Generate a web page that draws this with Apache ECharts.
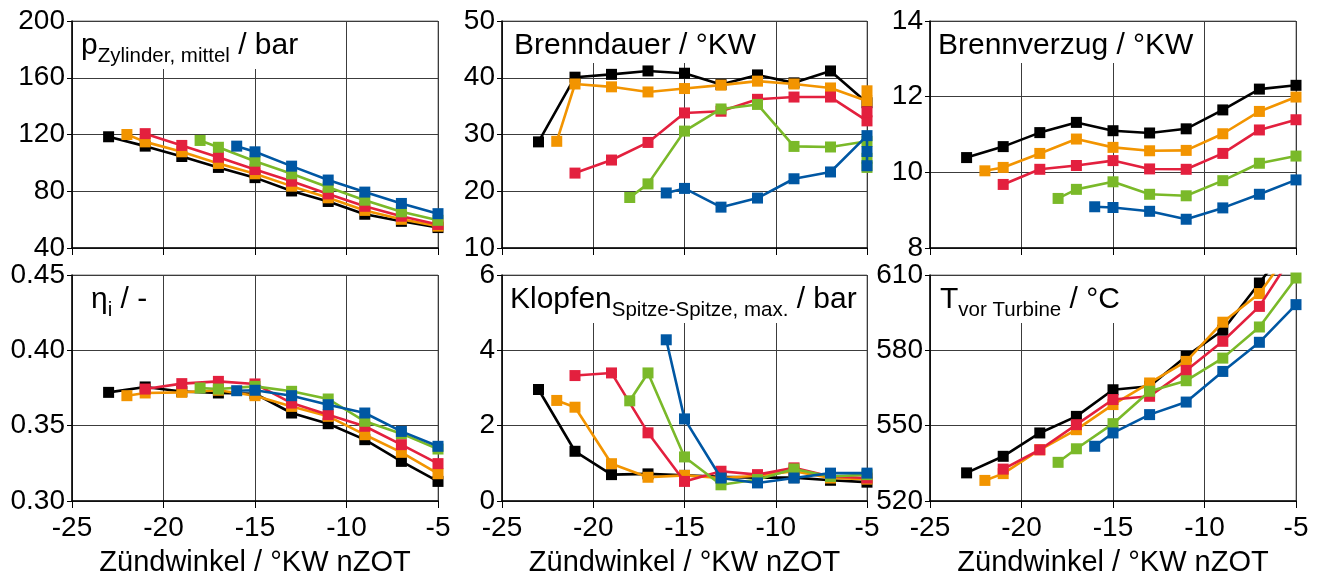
<!DOCTYPE html>
<html>
<head>
<meta charset="utf-8">
<script src="https://cdn.jsdelivr.net/npm/echarts@6/dist/echarts.min.js"></script>
<style>
  html, body { margin: 0; padding: 0; background: #fff; }
  #chart { width: 1324px; height: 583px; }
</style>
</head>
<body>
<div id="chart"></div>
<script>
// Ignition angles (°KW nZOT) of the five measurement series
const angBlack  = [-23, -21, -19, -17, -15, -13, -11, -9, -7, -5];
const angOrange = [-22, -21, -19, -17, -15, -13, -11, -9, -7, -5];
const angRed    = [-21, -19, -17, -15, -13, -11, -9, -7, -5];
const angGreen  = [-18, -17, -15, -13, -11, -9, -7, -5];
const angBlue   = [-16, -15, -13, -11, -9, -7, -5];

// Mean cylinder pressure / bar
const pZylBlack  = [118.4, 111.8, 104.5, 96.8, 89.6, 80.2, 72.8, 63.8, 58.8, 54.4];
const pZylOrange = [120.0, 114.8, 107.8, 99.6, 92.3, 83.6, 75.4, 66.5, 60.2, 55.4];
const pZylRed    = [120.6, 112.3, 104.0, 95.3, 87.1, 78.1, 69.4, 62.4, 56.6];
const pZylGreen  = [115.8, 111.0, 101.2, 92.3, 82.8, 73.7, 65.5, 59.5];
const pZylBlue   = [111.8, 107.8, 97.7, 87.9, 79.4, 71.4, 64.2];

// Combustion duration / °KW (plus repeated points at -5 °KW)
const bdBlack  = [28.7, 40.1, 40.6, 41.2, 40.8, 38.8, 40.5, 39.1, 41.2, 35.6];
const bdOrange = [28.8, 38.9, 38.4, 37.5, 38.1, 38.7, 39.4, 38.9, 38.2, 35.9];
const bdRed    = [23.2, 25.5, 28.6, 33.8, 34.1, 36.2, 36.6, 36.6, 32.4];
const bdGreen  = [18.9, 21.3, 30.6, 34.5, 35.3, 27.9, 27.8, 28.8];
const bdBlue   = [19.7, 20.5, 17.2, 18.8, 22.2, 23.4, 29.8];
const bdBlackRep  = [];
const bdOrangeRep = [37.7];
const bdRedRep    = [34.0];
const bdGreenRep  = [25.8, 24.2];
const bdBlueRep   = [27.0, 24.5];

// Ignition delay / °KW
const bvBlack  = [10.39, 10.68, 11.05, 11.32, 11.10, 11.04, 11.15, 11.65, 12.20, 12.30];
const bvOrange = [10.04, 10.13, 10.50, 10.88, 10.66, 10.57, 10.58, 11.02, 11.61, 11.99];
const bvRed    = [9.68, 10.08, 10.18, 10.31, 10.09, 10.08, 10.50, 11.12, 11.39];
const bvGreen  = [9.31, 9.55, 9.75, 9.42, 9.38, 9.78, 10.24, 10.43];
const bvBlue   = [9.09, 9.07, 8.97, 8.76, 9.06, 9.42, 9.80];

// Indicated efficiency / -
const etaBlack  = [0.3721, 0.3757, 0.3727, 0.3717, 0.3712, 0.3584, 0.3513, 0.3407, 0.3263, 0.3130];
const etaOrange = [0.3699, 0.3717, 0.3721, 0.3735, 0.3699, 0.3628, 0.3562, 0.3440, 0.3323, 0.3181];
const etaRed    = [0.3743, 0.3779, 0.3794, 0.3777, 0.3650, 0.3573, 0.3496, 0.3374, 0.3248];
const etaGreen  = [0.3750, 0.3743, 0.3761, 0.3728, 0.3677, 0.3529, 0.3447, 0.3345];
const etaBlue   = [0.3732, 0.3735, 0.3699, 0.3639, 0.3584, 0.3462, 0.3363];

// Knock amplitude, peak-to-peak max. / bar
const klBlack  = [2.96, 1.32, 0.70, 0.72, 0.68, 0.64, 0.62, 0.62, 0.55, 0.50];
const klOrange = [2.67, 2.49, 0.99, 0.63, 0.68, 0.61, 0.67, 0.79, 0.61, 0.58];
const klRed    = [3.33, 3.40, 1.81, 0.52, 0.79, 0.70, 0.88, 0.65, 0.61];
const klGreen  = [2.66, 3.40, 1.17, 0.43, 0.57, 0.85, 0.65, 0.70];
const klBlue   = [4.28, 2.18, 0.61, 0.48, 0.61, 0.74, 0.74];

// Temperature upstream of turbine / °C
const tvtBlack  = [531.2, 537.8, 547.1, 553.7, 564.3, 565.7, 577.6, 588.0, 606.8, 626.0];
const tvtOrange = [528.2, 530.9, 540.4, 548.4, 558.4, 567.0, 575.6, 591.2, 602.6, 623.0];
const tvtRed    = [532.7, 540.4, 550.4, 560.4, 561.7, 572.0, 583.6, 597.5, 620.0];
const tvtGreen  = [535.4, 540.8, 550.8, 563.7, 567.9, 576.9, 589.3, 608.8];
const tvtBlue   = [541.8, 547.1, 554.4, 559.4, 571.6, 583.2, 598.2];

// Axis settings
const xTicks = [-25, -20, -15, -10, -5];
const xTitle = 'Zündwinkel / °KW nZOT';

const colors = ['#000000', '#F29400', '#E3203E', '#7AB929', '#0057A3'];
const angles = [angBlack, angOrange, angRed, angGreen, angBlue];

function pairs(xs, ys, rep) {
  const d = xs.map((x, i) => [x, ys[i]]);
  (rep || []).forEach(v => d.push([-5, v]));
  return d;
}

const panels = [
  { vals: [pZylBlack, pZylOrange, pZylRed, pZylGreen, pZylBlue], min: 40, max: 200, step: 40, dec: 0,
    title: '{m|p}{s|Zylinder, mittel}{m| / bar}', pad: [9, 6, 2, 8] },
  { vals: [bdBlack, bdOrange, bdRed, bdGreen, bdBlue], reps: [bdBlackRep, bdOrangeRep, bdRedRep, bdGreenRep, bdBlueRep],
    min: 10, max: 50, step: 10, dec: 0, title: '{m|Brenndauer / °KW}', pad: [9, 8, 2, 11] },
  { vals: [bvBlack, bvOrange, bvRed, bvGreen, bvBlue], min: 8, max: 14, step: 2, dec: 0,
    title: '{m|Brennverzug / °KW}', pad: [9, 6, 2, 7] },
  { vals: [etaBlack, etaOrange, etaRed, etaGreen, etaBlue], min: 0.30, max: 0.45, step: 0.05, dec: 2,
    title: '{m|η}{s|i}{m| / -}', pad: [9, 6, 2, 18] },
  { vals: [klBlack, klOrange, klRed, klGreen, klBlue], min: 0, max: 6, step: 2, dec: 0,
    title: '{m|Klopfen}{s|Spitze-Spitze, max.}{m| / bar}', pad: [9, 3, 2, 7] },
  { vals: [tvtBlack, tvtOrange, tvtRed, tvtGreen, tvtBlue], min: 520, max: 610, step: 30, dec: 0,
    title: '{m|T}{s|vor Turbine}{m| / °C}', pad: [9, 6, 2, 9] }
];

const colLeft = [72, 502, 930];
const colWidth = [366, 365, 366];
const rowTop = [21, 275];
const rowHeight = [227, 226];

const FONT = '"Liberation Sans", Arial, Helvetica, sans-serif';

const grid = [], xAxis = [], yAxis = [], series = [], title = [];

panels.forEach((p, i) => {
  const r = Math.floor(i / 3), c = i % 3;
  const bottomRow = r === 1;
  grid.push({
    left: colLeft[c], top: rowTop[r], width: colWidth[c], height: rowHeight[r],
    show: true, borderColor: '#808080', borderWidth: 1, backgroundColor: 'transparent'
  });
  xAxis.push({
    type: 'value', gridIndex: i, min: xTicks[0], max: xTicks[xTicks.length - 1], interval: 5,
    axisLine: { show: true, onZero: false, lineStyle: { color: '#000', width: 1.5 } },
    axisTick: { show: true, length: 7, lineStyle: { color: '#000', width: 1 } },
    splitLine: { show: true, lineStyle: { color: '#3c3c3c', width: 1 } },
    axisLabel: { show: bottomRow, fontSize: 28, color: '#000', fontFamily: FONT, margin: 13 },
    name: bottomRow ? xTitle : '', nameLocation: 'middle', nameGap: 47,
    nameTextStyle: { fontSize: 29, color: '#000', fontFamily: FONT }
  });
  yAxis.push({
    type: 'value', gridIndex: i, min: p.min, max: p.max, interval: p.step,
    axisLine: { show: true, lineStyle: { color: '#000', width: 1.5 } },
    axisTick: { show: true, length: 5, lineStyle: { color: '#000', width: 1 } },
    splitLine: { show: true, lineStyle: { color: '#3c3c3c', width: 1 } },
    axisLabel: { fontSize: 28, color: '#000', fontFamily: FONT, margin: 7,
      formatter: v => v.toFixed(p.dec) }
  });
  p.vals.forEach((ys, k) => {
    series.push({
      type: 'line', xAxisIndex: i, yAxisIndex: i,
      data: pairs(angles[k], ys, p.reps ? p.reps[k] : null),
      symbol: 'rect', symbolSize: 11, clip: true,
      lineStyle: { color: colors[k], width: 2.6 },
      itemStyle: { color: colors[k] },
      emphasis: { disabled: true }, z: 2 + k
    });
  });
  title.push({
    left: colLeft[c] + 1, top: rowTop[r] + 1,
    text: p.title, backgroundColor: '#fff', padding: p.pad,
    textStyle: {
      fontFamily: FONT, fontWeight: 'normal',
      rich: {
        m: { fontSize: 30, lineHeight: 36, verticalAlign: 'top', color: '#000', fontFamily: FONT, fontWeight: 'normal' },
        s: { fontSize: 20.5, lineHeight: 16, verticalAlign: 'bottom', color: '#000', fontFamily: FONT, fontWeight: 'normal' }
      }
    }
  });
});

const chart = echarts.init(document.getElementById('chart'), null, { renderer: 'canvas' });
chart.setOption({
  animation: false,
  backgroundColor: '#fff',
  title, grid, xAxis, yAxis, series
});
</script>
</body>
</html>
